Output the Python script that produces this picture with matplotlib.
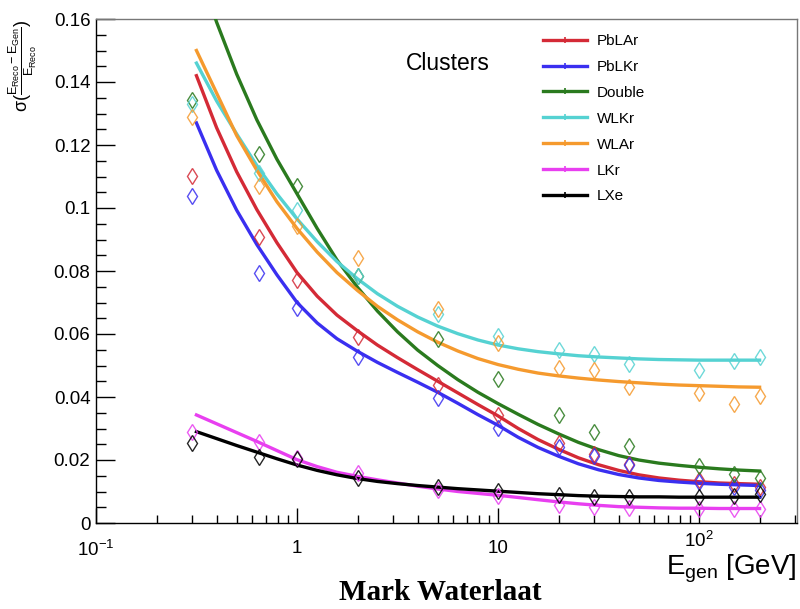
import matplotlib
matplotlib.use("Agg")
import matplotlib.pyplot as plt
from matplotlib.lines import Line2D
from matplotlib.transforms import ScaledTranslation
from matplotlib.ticker import FixedLocator, NullFormatter, FixedFormatter

plt.rcParams['font.family'] = ['Liberation Sans', 'DejaVu Sans']
plt.rcParams['mathtext.fontset'] = 'custom'
plt.rcParams['mathtext.rm'] = 'Liberation Sans'
plt.rcParams['mathtext.it'] = 'Liberation Sans'
plt.rcParams['mathtext.bf'] = 'Liberation Sans:bold'

# ---------------- data ----------------
names = ["PbLAr", "PbLKr", "Double", "WLKr", "WLAr", "LKr", "LXe"]
colors = ["#d42a36", "#3a2ff0", "#2a7a1e", "#55d2d2", "#f59a2e", "#e83ff0", "#000000"]

# measured points
e_pts = [0.3, 0.65, 1, 2, 5, 10, 20, 30, 45, 100, 150, 200]
pts_pblar  = [0.1103, 0.0907, 0.0771, 0.0592, 0.0437, 0.0343, 0.0255, 0.0218, 0.0187, 0.0135, 0.0125, 0.0115]
pts_pblkr  = [0.1037, 0.0794, 0.0683, 0.0528, 0.0396, 0.0302, 0.0242, 0.0214, 0.0183, 0.0131, 0.0115, 0.0106]
pts_double = [0.1343, 0.1171, 0.1069, 0.0784, 0.0585, 0.0458, 0.0344, 0.0289, 0.0243, 0.0180, 0.0155, 0.0143]
pts_wlkr   = [0.1330, 0.1112, 0.0995, 0.0785, 0.0664, 0.0594, 0.0549, 0.0535, 0.0505, 0.0487, 0.0514, 0.0526]
pts_wlar   = [0.1290, 0.1071, 0.0943, 0.0840, 0.0680, 0.0570, 0.0492, 0.0487, 0.0432, 0.0413, 0.0379, 0.0404]
pts_lkr    = [0.0290, 0.0258, 0.0205, 0.0158, 0.0105, 0.0087, 0.0057, 0.0052, 0.0049, 0.0045, 0.0045, 0.0045]
pts_lxe    = [0.0255, 0.0208, 0.0203, 0.0142, 0.0113, 0.0103, 0.0088, 0.0084, 0.0084, 0.0084, 0.0086, 0.0092]

# fitted curves
e_fit = [0.316, 0.398, 0.501, 0.631, 0.794, 1.0, 1.26, 1.58, 2.0, 2.51, 3.16, 3.98, 5.01, 6.31, 7.94,
         10.0, 12.6, 15.8, 20.0, 25.1, 31.6, 39.8, 50.1, 63.1, 79.4, 100, 126, 158, 200]
fit_pblar = [0.1420, 0.1255, 0.1115, 0.0995, 0.0890, 0.0795, 0.0720, 0.0660, 0.0610, 0.0565, 0.0525, 0.0487,
             0.0450, 0.0413, 0.0376, 0.0340, 0.0300, 0.0265, 0.0234, 0.0207, 0.0185, 0.0167, 0.0153,
             0.0143, 0.0136, 0.0131, 0.0127, 0.0125, 0.0123]
fit_pblkr = [0.1270, 0.1120, 0.0993, 0.0884, 0.0788, 0.0700, 0.0635, 0.0585, 0.0545, 0.0510, 0.0478, 0.0447,
             0.0415, 0.0380, 0.0344, 0.0310, 0.0272, 0.0240, 0.0212, 0.0188, 0.0169, 0.0154, 0.0143,
             0.0135, 0.0130, 0.0126, 0.0123, 0.0121, 0.0119]
fit_double = [0.1780, 0.1590, 0.1425, 0.1280, 0.1155, 0.1045, 0.0935, 0.0835, 0.0748, 0.0673, 0.0607, 0.0549,
              0.0500, 0.0455, 0.0415, 0.0379, 0.0345, 0.0313, 0.0283, 0.0256, 0.0233, 0.0214, 0.0200,
              0.0190, 0.0183, 0.0177, 0.0172, 0.0168, 0.0165]
fit_wlkr = [0.1460, 0.1340, 0.1235, 0.1135, 0.1045, 0.0965, 0.0893, 0.0830, 0.0775, 0.0728, 0.0688, 0.0654,
            0.0625, 0.0601, 0.0581, 0.0565, 0.0553, 0.0544, 0.0537, 0.0531, 0.0527, 0.0524, 0.0521,
            0.0519, 0.0518, 0.0517, 0.0517, 0.0517, 0.0517]
fit_wlar = [0.1500, 0.1365, 0.1230, 0.1120, 0.1020, 0.0935, 0.0860, 0.0795, 0.0738, 0.0688, 0.0645, 0.0607,
            0.0574, 0.0546, 0.0522, 0.0503, 0.0488, 0.0476, 0.0467, 0.0460, 0.0454, 0.0449, 0.0445,
            0.0441, 0.0438, 0.0436, 0.0434, 0.0432, 0.0431]
fit_lkr = [0.0343, 0.0315, 0.0287, 0.0259, 0.0230, 0.0201, 0.0179, 0.0161, 0.0148, 0.0137, 0.0127, 0.0117,
           0.0108, 0.0100, 0.0094, 0.0088, 0.0081, 0.0074, 0.0067, 0.0061, 0.0056, 0.0052, 0.0050,
           0.0048, 0.0047, 0.0047, 0.0046, 0.0046, 0.0046]
fit_lxe = [0.0290, 0.0268, 0.0246, 0.0225, 0.0204, 0.0184, 0.0167, 0.0153, 0.0141, 0.0132, 0.0125, 0.0119,
           0.0114, 0.0109, 0.0105, 0.0101, 0.0097, 0.0093, 0.0090, 0.0087, 0.0085, 0.0084, 0.0083,
           0.0083, 0.0082, 0.0082, 0.0082, 0.0082, 0.0082]

pts = [pts_pblar, pts_pblkr, pts_double, pts_wlkr, pts_wlar, pts_lkr, pts_lxe]
fits = [fit_pblar, fit_pblkr, fit_double, fit_wlkr, fit_wlar, fit_lkr, fit_lxe]

xticks = [0.1, 1, 10, 100]
xticklabels = [r"$10^{-1}$", "1", "10", r"$10^{2}$"]
yticks = [0, 0.02, 0.04, 0.06, 0.08, 0.1, 0.12, 0.14, 0.16]
yticklabels = ["0", "0.02", "0.04", "0.06", "0.08", "0.1", "0.12", "0.14", "0.16"]

# ---------------- figure ----------------
W, H = 800, 609
fig = plt.figure(figsize=(W / 100, H / 100), dpi=100)
ax = fig.add_axes([96 / W, 1 - 523 / H, (797 - 96) / W, (523 - 19) / H])

for c, p, f in zip(colors, pts, fits):
    ax.plot(e_fit, f, color=c, lw=2.4, solid_joinstyle='round', zorder=3)
    ax.plot(e_pts, p, ls='none', marker='d', ms=8.5, mfc='none', mec=c, mew=1.0, alpha=0.85, zorder=4)

ax.set_xscale('log')
ax.set_xlim(0.1, 307)
ax.set_ylim(0, 0.16)

ax.xaxis.set_major_locator(FixedLocator(xticks))
ax.xaxis.set_major_formatter(FixedFormatter(xticklabels))
minors = [m * 10.0 ** d for d in (-1, 0, 1, 2) for m in range(2, 10)]
ax.xaxis.set_minor_locator(FixedLocator(minors))
ax.xaxis.set_minor_formatter(NullFormatter())
ax.yaxis.set_major_locator(FixedLocator(yticks))
ax.yaxis.set_major_formatter(FixedFormatter(yticklabels))
ax.yaxis.set_minor_locator(FixedLocator([i * 0.005 for i in range(33)]))

ax.tick_params(axis='y', which='major', direction='in', length=13.5, width=1.0, labelsize=13.5, pad=4)
ax.tick_params(axis='y', which='minor', direction='in', length=7, width=1.0)
ax.tick_params(axis='x', which='major', direction='in', length=11, width=1.0, labelsize=13.5, pad=12)
ax.tick_params(axis='x', which='minor', direction='in', length=6, width=1.0)
for s in ax.spines.values():
    s.set_linewidth(1.0)
ax.spines['top'].set_color('#777777')
ax.spines['right'].set_color('#777777')

# raise the 10^2 label a little, as in the reference
fig.canvas.draw()
lab = ax.xaxis.get_major_ticks()[3].label1
lab.set_transform(lab.get_transform() + ScaledTranslation(0, 6 / 72, fig.dpi_scale_trans))

# axis titles (ROOT style)
fig.text(797 / W, 1 - 569 / H, r"$\mathrm{E_{gen}}$ [GeV]", ha='right', va='center', fontsize=20)
fig.text(23 / W, 1 - 19 / H,
         r"$\mathrm{\sigma(\frac{E_{Reco}-E_{Gen}}{E_{Reco}})}$",
         rotation=90, ha='center', va='top', fontsize=13)

fig.text(448 / W, 1 - 63 / H, "Clusters", ha='center', va='center', fontsize=16.5)

handles = [Line2D([], [], color=c, lw=2.4, marker='|', ms=4, mew=1.2) for c in colors]
leg = ax.legend(handles, names, loc='upper left', bbox_to_anchor=(543 / W, 1 - 34 / H),
                bbox_transform=fig.transFigure, frameon=False, fontsize=11,
                handlelength=2.9, handletextpad=0.65, labelspacing=0.78, borderpad=0,
                borderaxespad=0)

fig.text(440 / W, 1 - 592 / H, "Mark Waterlaat", ha='center', va='center',
         fontsize=21, fontweight='bold', family=['Liberation Serif', 'DejaVu Serif'])

fig.savefig("out.png", dpi=100)
